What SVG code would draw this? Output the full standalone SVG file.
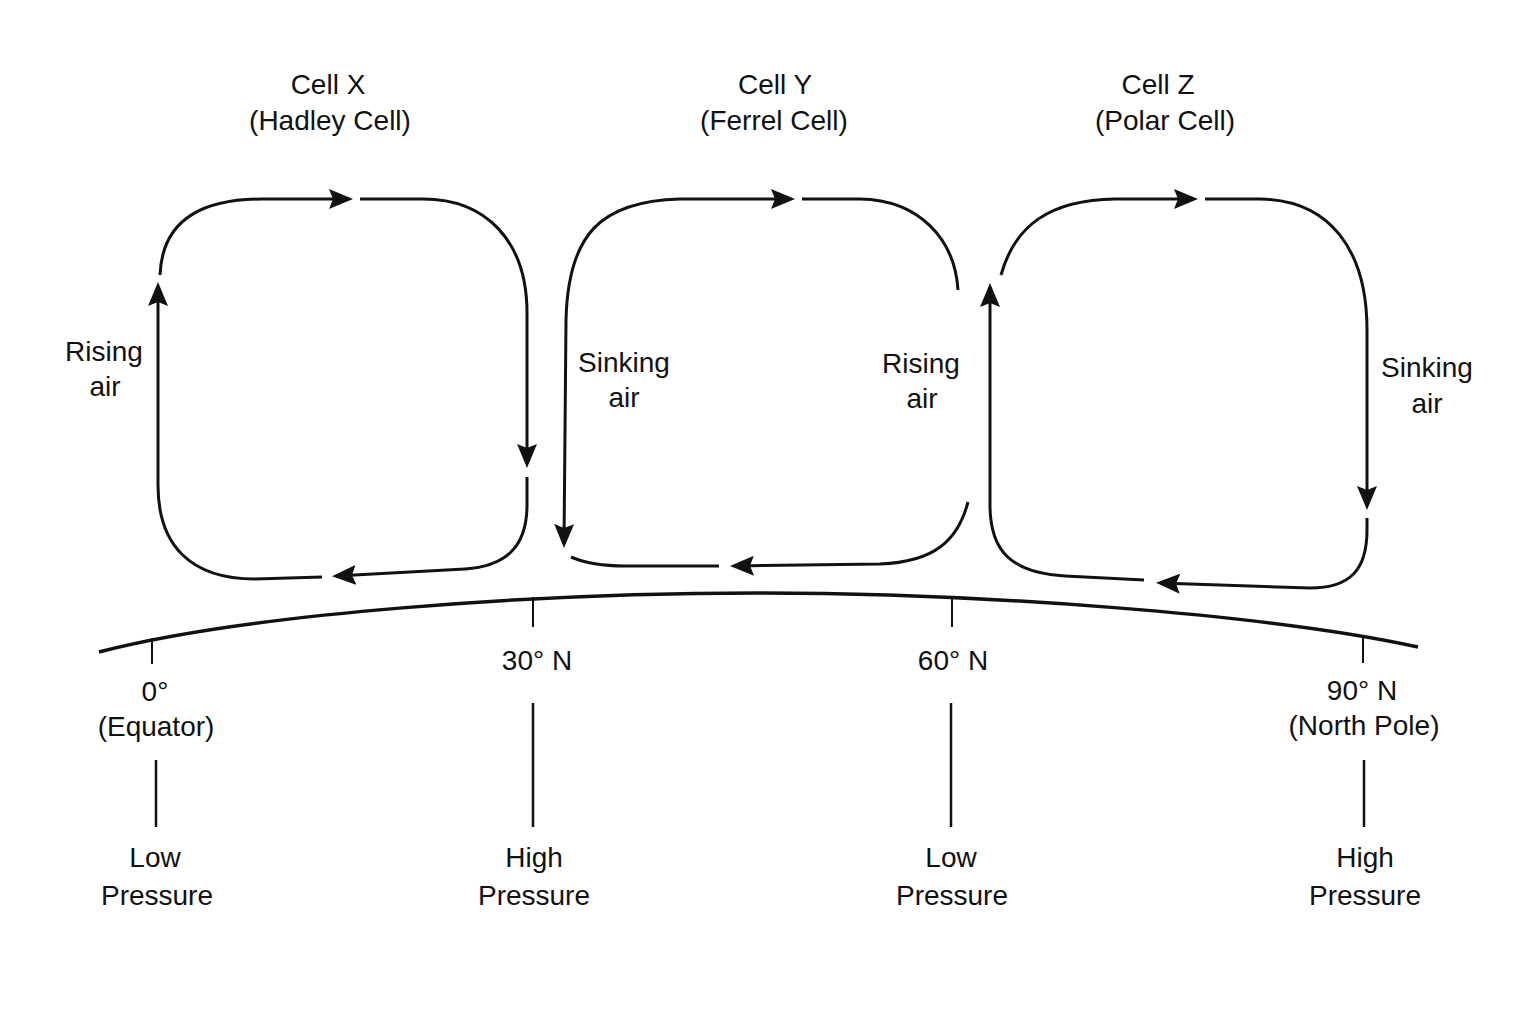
<svg xmlns="http://www.w3.org/2000/svg" width="1536" height="1024" viewBox="0 0 1536 1024">
<style>
text{font-family:"Liberation Sans",Arial,Helvetica,sans-serif;font-size:28px;fill:#111;text-anchor:middle}
.flow{fill:none;stroke:#111;stroke-width:3;stroke-linecap:butt}
.arc{fill:none;stroke:#111;stroke-width:3.5}
.tick{stroke:#111;stroke-width:2}
.lead{stroke:#111;stroke-width:2.5}
</style>
<defs>
<marker id="ah" markerUnits="userSpaceOnUse" markerWidth="24" markerHeight="20" refX="20" refY="10" orient="auto-start-reverse" viewBox="0 0 24 20">
<path d="M0,0 L24,10 L0,20 L4,10 z" fill="#111"/>
</marker>
</defs>
<rect width="1536" height="1024" fill="#fff"/>

<g id="cell-x">
<text x="328" y="94">Cell X</text>
<text x="330" y="130">(Hadley Cell)</text>
<text x="104" y="361">Rising</text>
<text x="105" y="396">air</text>
</g>
<g id="cell-y">
<text x="775" y="94">Cell Y</text>
<text x="774" y="130">(Ferrel Cell)</text>
<text x="624" y="372">Sinking</text>
<text x="624" y="407">air</text>
<text x="921" y="373">Rising</text>
<text x="922" y="408">air</text>
</g>
<g id="cell-z">
<text x="1158" y="94">Cell Z</text>
<text x="1165" y="130">(Polar Cell)</text>
<text x="1427" y="377">Sinking</text>
<text x="1427" y="413">air</text>
</g>

<g id="earth">
<path class="arc" d="M99 652 C249 613 538 593 758 593 C978 593 1268 614 1418 647"/>
<line class="tick" x1="152" y1="638" x2="152" y2="664"/>
<line class="tick" x1="533" y1="597" x2="533" y2="627"/>
<line class="tick" x1="952" y1="597" x2="952" y2="627"/>
<line class="tick" x1="1363" y1="635" x2="1363" y2="663"/>
</g>

<g id="lat-0">
<text x="155" y="701">0°</text>
<text x="156" y="736">(Equator)</text>
<text x="155" y="867">Low</text>
<text x="157" y="905">Pressure</text>
</g>
<g id="lat-30">
<text x="537" y="670">30° N</text>
<text x="534" y="867">High</text>
<text x="534" y="905">Pressure</text>
</g>
<g id="lat-60">
<text x="953" y="670">60° N</text>
<text x="951" y="867">Low</text>
<text x="952" y="905">Pressure</text>
</g>
<g id="lat-90">
<text x="1362" y="700">90° N</text>
<text x="1364" y="735">(North Pole)</text>
<text x="1365" y="867">High</text>
<text x="1365" y="905">Pressure</text>
</g>

<g id="connectors">
<!-- Cell X -->
<path class="flow" marker-end="url(#ah)" d="M322 577 L255 579 C190 579 158 545 158 485 L158 286"/>
<path class="flow" marker-end="url(#ah)" d="M160 275 C162 225 195 199 262 199 L349 199"/>
<path class="flow" marker-end="url(#ah)" d="M360 199 L423 199 C485 199 527 240 527 313 L527 464"/>
<path class="flow" marker-end="url(#ah)" d="M527 477 L527 505 C527 548 505 566 465 569 L336 576"/>
<!-- Cell Y -->
<path class="flow" marker-start="url(#ah)" marker-end="url(#ah)" d="M564 544 L566 320 C568 235 600 201 680 199 L791 199"/>
<path class="flow" d="M802 199 L860 199 C920 200 955 240 958 290"/>
<path class="flow" marker-end="url(#ah)" d="M968 502 C958 540 935 562 880 564 L734 566"/>
<path class="flow" d="M719 566 L625 566 C600 566 585 563 571 557"/>
<!-- Cell Z -->
<path class="flow" marker-end="url(#ah)" d="M1144 580 L1065 576 C1010 573 990 550 990 505 L990 287"/>
<path class="flow" marker-end="url(#ah)" d="M1001 275 C1015 225 1050 200 1115 199 L1194 199"/>
<path class="flow" marker-end="url(#ah)" d="M1205 199 L1260 199 C1330 200 1367 250 1367 330 L1367 506"/>
<path class="flow" marker-end="url(#ah)" d="M1367 518 L1367 530 C1367 570 1350 588 1310 588 L1160 583"/>
<!-- pressure leader lines -->
<line class="lead" x1="156" y1="760" x2="156" y2="827"/>
<line class="lead" x1="533" y1="703" x2="533" y2="827"/>
<line class="lead" x1="951" y1="703" x2="951" y2="827"/>
<line class="lead" x1="1364" y1="760" x2="1364" y2="827"/>
</g>
</svg>
